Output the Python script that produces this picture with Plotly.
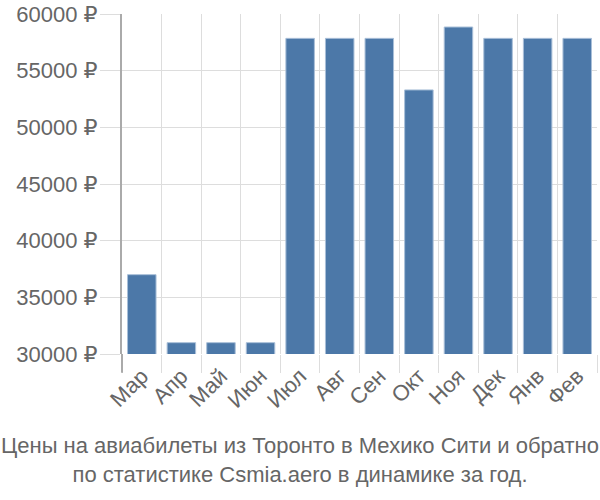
import plotly.graph_objects as go

months = ["Мар", "Апр", "Май", "Июн", "Июл", "Авг", "Сен", "Окт", "Ноя", "Дек", "Янв", "Фев"]
prices = [37000, 31000, 31000, 31000, 57850, 57850, 57850, 53300, 58850, 57850, 57850, 57850]
y_ticks = [30000, 35000, 40000, 45000, 50000, 55000, 60000]
y_labels = [f"{v} ₽" for v in y_ticks]
title_text = "Цены на авиабилеты из Торонто в Мехико Сити и обратно<br>по статистике Csmia.aero в динамике за год."

font = "Liberation Sans, Arial, DejaVu Sans, sans-serif"
L, R = 122, 3
plot_w = 600 - L - R

fig = go.Figure(go.Bar(
    x=months, y=prices,
    marker=dict(color="#4c78a8", line=dict(color="#a9bfd8", width=1)),
    width=0.72,
))

fig.update_layout(
    width=600, height=500,
    margin=dict(l=L, r=R, t=14, b=146),
    plot_bgcolor="white", paper_bgcolor="white",
    showlegend=False,
    font=dict(family=font, size=22, color="#666666"),
    xaxis=dict(
        type="category",
        tickson="boundaries",
        showgrid=True, gridcolor="#dddddd", gridwidth=1,
        ticks="outside", ticklen=18, tickcolor="#dddddd",
        tickangle=-45,
        ticklabelstandoff=4,
        tickfont=dict(size=22, color="#666666"),
        showline=False, zeroline=False,
    ),
    yaxis=dict(
        range=[30000, 60000],
        tickvals=y_ticks, ticktext=y_labels,
        showgrid=True, gridcolor="#dddddd", gridwidth=1,
        ticks="outside", ticklen=20, tickcolor="#dddddd",
        ticklabelstandoff=-2,
        tickfont=dict(size=22, color="#666666"),
        showline=True, linecolor="#aaaaaa", linewidth=2,
        zeroline=False,
    ),
    annotations=[dict(
        text=title_text, x=(300 - L) / plot_w, xref="paper", y=-0.312, yref="paper",
        xanchor="center", yanchor="middle", showarrow=False,
        font=dict(family=font, size=22, color="#666666"),
    )],
    shapes=[dict(
        type="line", xref="paper", yref="paper",
        x0=0, x1=0, y0=-0.055, y1=0,
        line=dict(color="#aaaaaa", width=2),
    )],
)

fig.write_html("out.html")
